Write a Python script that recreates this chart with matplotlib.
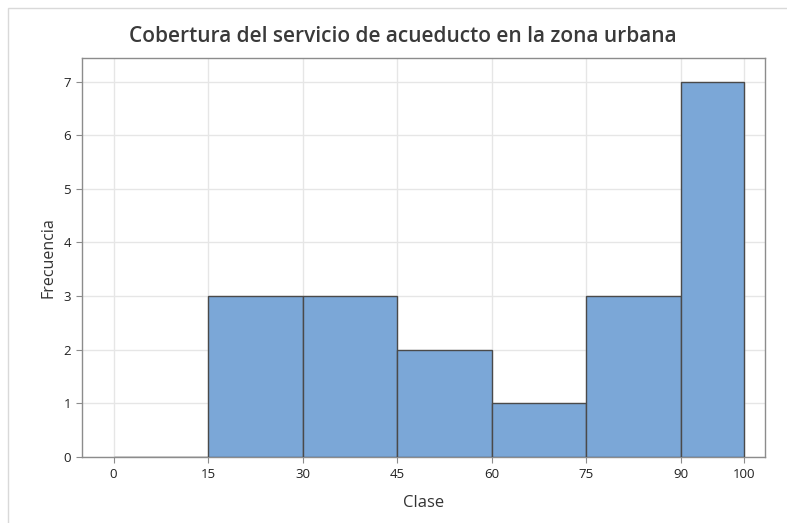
import matplotlib

matplotlib.use("Agg")
import matplotlib.pyplot as plt
import numpy as np
from matplotlib.patches import Rectangle

bin_edges = [0, 15, 30, 45, 60, 75, 90, 100]
counts = [0, 3, 3, 2, 1, 3, 7]
x_ticks = [0, 15, 30, 45, 60, 75, 90, 100]
y_ticks = [0, 1, 2, 3, 4, 5, 6, 7]

plt.rcParams["font.family"] = ["Open Sans", "DejaVu Sans"]

fig = plt.figure(figsize=(7.87, 5.23), dpi=100)
ax = fig.add_axes([82 / 787, 1 - 457 / 523, (765 - 82) / 787, (457 - 58) / 523])

# light frame round the whole graph
fig.patches.append(Rectangle((8 / 787, -0.1), 1.2, 1 - 8 / 523 + 0.1,
                             transform=fig.transFigure, fill=False,
                             edgecolor="#d9d9d9", linewidth=1.0))

edges = np.array(bin_edges)
ax.bar(edges[:-1], counts, width=np.diff(edges), align="edge",
       color="#7BA7D7", edgecolor="#4a4a4a", linewidth=1.0, zorder=3)

ax.set_xlim(-5, 103.4)
ax.set_ylim(0, 7.44)
ax.set_xticks(x_ticks)
ax.set_yticks(y_ticks)
ax.grid(True, color="#e6e6e6", linewidth=1.0, zorder=0)
ax.set_axisbelow(True)

for s in ax.spines.values():
    s.set_color("#8c8c8c")
    s.set_linewidth(1.0)
ax.tick_params(axis="both", direction="out", length=4, color="#8c8c8c",
               labelsize=9.5, labelcolor="#222222", pad=4)
for lab in ax.get_xticklabels() + ax.get_yticklabels():
    lab.set_fontweight("medium")

ax.set_xlabel("Clase", fontsize=12, color="#333333", labelpad=10)
ax.set_ylabel("Frecuencia", fontsize=11.5, color="#333333", labelpad=5)
fig.text(403 / 787, 1 - 37 / 523, "Cobertura del servicio de acueducto en la zona urbana",
         ha="center", va="center", fontsize=15, fontweight="semibold", color="#3a3a3a")

fig.savefig("out.png", dpi=100)
